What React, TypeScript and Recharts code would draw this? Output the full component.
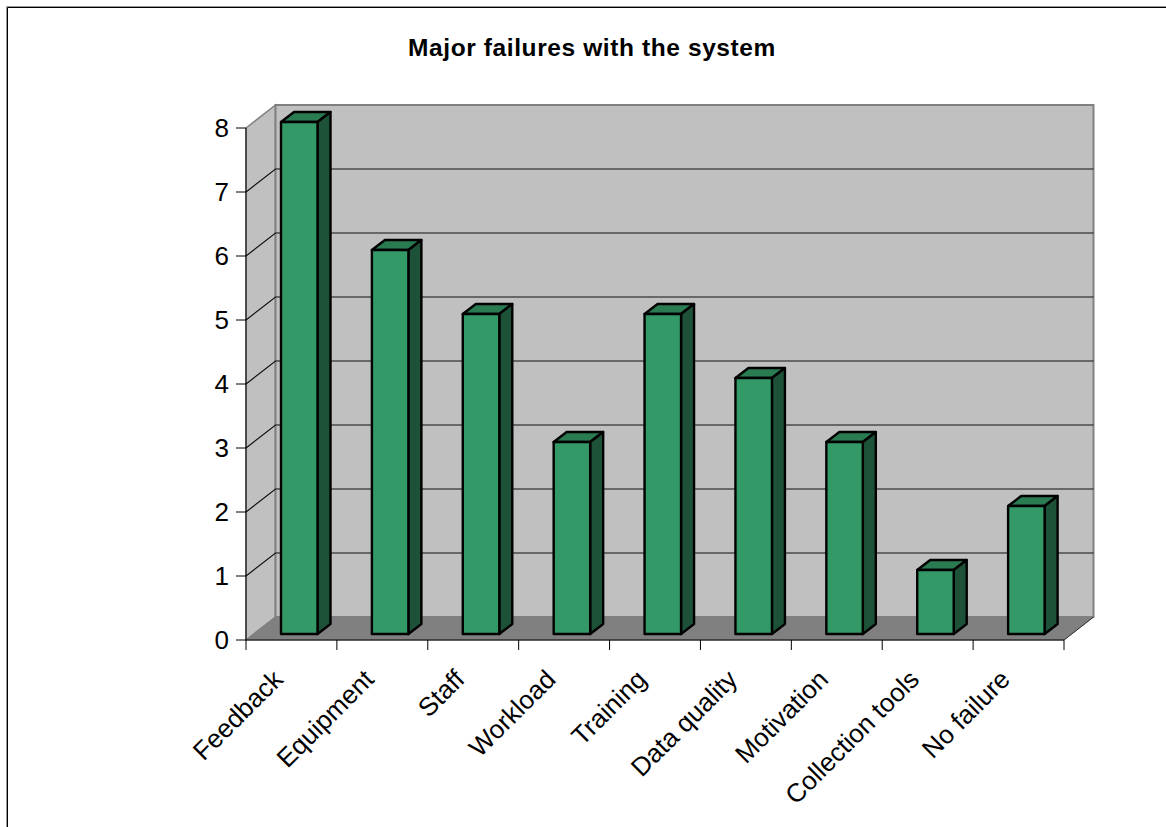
import React from 'react';
import { BarChart, Bar, XAxis, YAxis, CartesianGrid, ReferenceArea } from 'recharts';

const categories = ['Feedback', 'Equipment', 'Staff', 'Workload', 'Training', 'Data quality', 'Motivation', 'Collection tools', 'No failure'];
const failures = [8, 6, 5, 3, 5, 4, 3, 1, 2];
const valueTicks = [0, 1, 2, 3, 4, 5, 6, 7, 8];
const edgeTicks = [0, 1, 2, 3, 4, 5, 6, 7, 8, 9];
const rows = categories.map((name, slot) => ({ name, slot, failures: failures[slot] }));

const FONT = '"Liberation Sans", Arial, sans-serif';
// Oblique projection of the chart box: how far the back wall sits from the front plane.
const WALL_DX = 29.5;
const WALL_DY = 23;
// Bars stand a little behind the front plane and have their own depth.
const BAR_DX = 8;
const BAR_DY = 6;
const BAR_DEPTH_X = 13;
const BAR_DEPTH_Y = 10;

const WALL = '#c0c0c0';
const FLOOR = '#808080';

function Walls({ x, y, width, height }: any) {
  const bottom = y + height;
  const right = x + width;
  return (
    <g>
      <polygon points={`${x},${y} ${x + WALL_DX},${y - WALL_DY} ${x + WALL_DX},${bottom - WALL_DY} ${x},${bottom}`} fill={WALL} stroke={FLOOR} strokeWidth={1.5} />
      <rect x={x + WALL_DX} y={y - WALL_DY} width={width} height={height} fill={WALL} stroke={FLOOR} strokeWidth={2} />
      <polygon points={`${x},${bottom} ${x + WALL_DX},${bottom - WALL_DY} ${right + WALL_DX},${bottom - WALL_DY} ${right},${bottom}`} fill={FLOOR} stroke={FLOOR} strokeWidth={1} />
      <line x1={right} y1={bottom} x2={right + WALL_DX} y2={bottom - WALL_DY} stroke="#333" strokeWidth={1} />
    </g>
  );
}

function WallGridLine(props: any) {
  const { x1, y1, x2, y, height } = props;
  if (y1 <= y + 0.5 || y1 >= y + height - 0.5) return <g />;
  return (
    <polyline
      points={`${x1},${y1} ${x1 + WALL_DX},${y1 - WALL_DY} ${x2 + WALL_DX},${y1 - WALL_DY}`}
      fill="none"
      stroke="#111"
      strokeWidth={1.2}
    />
  );
}

function Column({ x, y, width, height }: any) {
  const l = x + BAR_DX;
  const t = y - BAR_DY;
  const r = l + width;
  const b = t + height;
  const outline = { stroke: '#000', strokeWidth: 2.4, strokeLinejoin: 'round' as const };
  return (
    <g>
      <polygon points={`${l},${t} ${l + BAR_DEPTH_X},${t - BAR_DEPTH_Y} ${r + BAR_DEPTH_X},${t - BAR_DEPTH_Y} ${r},${t}`} fill="#2a7a52" {...outline} />
      <polygon points={`${r},${t} ${r + BAR_DEPTH_X},${t - BAR_DEPTH_Y} ${r + BAR_DEPTH_X},${b - BAR_DEPTH_Y} ${r},${b}`} fill="#1d5238" {...outline} />
      <rect x={l} y={t} width={width} height={height} fill="#339966" {...outline} />
    </g>
  );
}

function SlantedTick({ x, y, payload }: any) {
  return (
    <text
      transform={`translate(${x - 7},${y + 23}) rotate(-45)`}
      textAnchor="end"
      fontFamily={FONT}
      fontSize={26}
      fill="#000"
    >
      {payload.value}
    </text>
  );
}

export default function App() {
  return (
    <div style={{ position: 'absolute', left: 0, top: 0, width: 1166, height: 827 }}>
      <BarChart
        width={1166}
        height={827}
        data={rows}
        margin={{ top: 128, right: 102, bottom: 0, left: 0 }}
        barSize={36.5}
      >
        <ReferenceArea xAxisId="edges" yAxisId={0} x1={0} x2={9} y1={0} y2={8} shape={Walls} ifOverflow="visible" zIndex={-200} />
        <CartesianGrid xAxisId="edges" vertical={false} horizontal={WallGridLine} />
        <XAxis
          xAxisId="edges"
          dataKey="slot"
          type="number"
          domain={[0, 9]}
          allowDataOverflow
          ticks={edgeTicks}
          tickFormatter={() => ''}
          tickSize={10}
          height={10}
          interval={0}
          stroke="#000"
          tickLine={{ stroke: '#000', strokeWidth: 1 }}
        />
        <XAxis
          xAxisId="names"
          dataKey="name"
          axisLine={false}
          tickLine={false}
          interval={0}
          height={177}
          tick={SlantedTick}
        />
        <YAxis
          yAxisId={0}
          width={246}
          domain={[0, 8]}
          ticks={valueTicks}
          interval={0}
          tickSize={10}
          tickMargin={7}
          stroke="#000"
          tick={{ fontFamily: FONT, fontSize: 26, fill: '#000' }}
        />
        <Bar xAxisId="names" yAxisId={0} dataKey="failures" shape={Column} isAnimationActive={false} />
        <text x={592} y={56} textAnchor="middle" fontFamily={FONT} fontSize={24.5} letterSpacing={0.6} fontWeight="bold" fill="#000">
          Major failures with the system
        </text>
        <polyline points="6.5,827 6.5,6.5 1166,6.5" fill="none" stroke="#999" strokeWidth={1} />
        <polyline points="7.5,827 7.5,7.5 1166,7.5" fill="none" stroke="#000" strokeWidth={1} />
      </BarChart>
    </div>
  );
}
